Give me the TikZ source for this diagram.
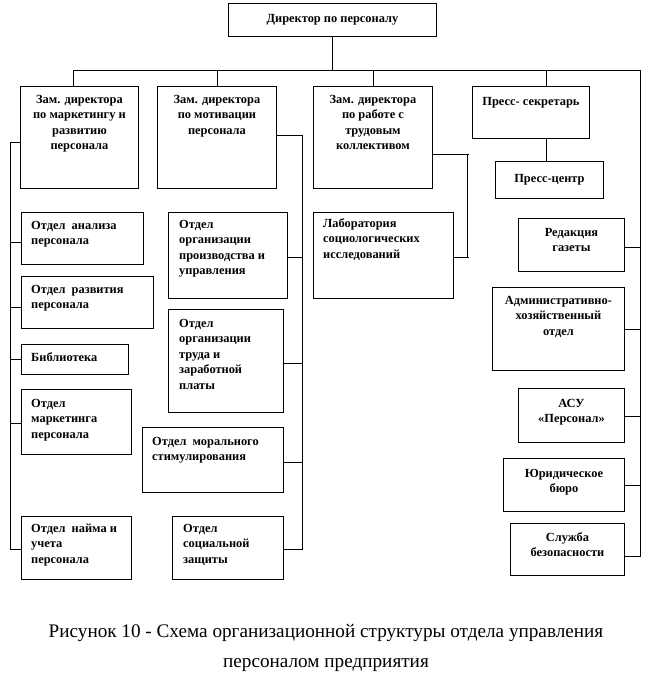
\documentclass[tikz,border=0pt]{standalone}
\usepackage{fontspec}
\setmainfont{Liberation Serif}
\tikzset{
  box/.style={draw, line width=0.9pt, inner sep=0pt, anchor=north west},
  ctext/.style={anchor=base, inner sep=0pt, font=\bfseries\fontsize{12.4}{15.5}\selectfont},
  ltext/.style={anchor=base west, inner sep=0pt, font=\bfseries\fontsize{12.4}{15.5}\selectfont},
  captext/.style={anchor=center, inner sep=0pt, font=\fontsize{19.2}{22}\selectfont},
  wire/.style={line width=0.9pt}
}
\newcommand{\cpar}[1]{\parbox[t]{180pt}{\centering #1}}
\newcommand{\lpar}[1]{\parbox[t]{200pt}{\raggedright #1}}
\begin{document}
\begin{tikzpicture}[x=1pt,y=-1pt]
\useasboundingbox[fill=white] (0,0) rectangle (654,680);
% boxes
\node[box, minimum width=208pt, minimum height=33pt] (dir) at (228,3) {};
\node[box, minimum width=118pt, minimum height=102pt] (z1) at (20,86) {};
\node[box, minimum width=119pt, minimum height=102pt] (z2) at (157,86) {};
\node[box, minimum width=119pt, minimum height=102pt] (z3) at (313,86) {};
\node[box, minimum width=117pt, minimum height=52pt] (ps) at (472,86) {};
\node[box, minimum width=108pt, minimum height=37pt] (pc) at (495,161) {};
\node[box, minimum width=106pt, minimum height=53pt] (red) at (518,218) {};
\node[box, minimum width=132pt, minimum height=83pt] (adm) at (492,287) {};
\node[box, minimum width=106pt, minimum height=54pt] (asu) at (518,388) {};
\node[box, minimum width=121pt, minimum height=53pt] (yur) at (503,458) {};
\node[box, minimum width=114pt, minimum height=52pt] (sl) at (510,523) {};
\node[box, minimum width=122pt, minimum height=52pt] (an) at (21,212) {};
\node[box, minimum width=132pt, minimum height=52pt] (ra) at (21,276) {};
\node[box, minimum width=107pt, minimum height=30pt] (bi) at (21,344) {};
\node[box, minimum width=110pt, minimum height=65pt] (ma) at (21,389) {};
\node[box, minimum width=110pt, minimum height=63pt] (na) at (21,516) {};
\node[box, minimum width=119pt, minimum height=86pt] (op) at (168,212) {};
\node[box, minimum width=115pt, minimum height=103pt] (ot) at (168,309) {};
\node[box, minimum width=141pt, minimum height=65pt] (mo) at (142,427) {};
\node[box, minimum width=111pt, minimum height=63pt] (so) at (172,516) {};
\node[box, minimum width=140pt, minimum height=86pt] (lab) at (313,212) {};
% texts
\node[ctext] (dirt) at ([yshift=-20pt]dir.north) {\cpar{Директор по персоналу}};
\node[ctext] (z1t) at ([yshift=-17pt]z1.north) {\cpar{Зам. директора\\по маркетингу и\\развитию\\персонала}};
\node[ctext] (z2t) at ([yshift=-17pt]z2.north) {\cpar{Зам. директора\\по мотивации\\персонала}};
\node[ctext] (z3t) at ([yshift=-17pt]z3.north) {\cpar{Зам. директора\\по работе с\\трудовым\\коллективом}};
\node[ctext] (pst) at ([yshift=-19pt]ps.north) {\cpar{Пресс- секретарь}};
\node[ctext] (pct) at ([yshift=-21pt]pc.north) {\cpar{Пресс-центр}};
\node[ctext] (redt) at ([yshift=-18pt]red.north) {\cpar{Редакция\\газеты}};
\node[ctext] (admt) at ([yshift=-17pt]adm.north) {\cpar{Административно-\\хозяйственный\\отдел}};
\node[ctext] (asut) at ([yshift=-19pt]asu.north) {\cpar{АСУ\\«Персонал»}};
\node[ctext] (yurt) at ([yshift=-19pt]yur.north) {\cpar{Юридическое\\бюро}};
\node[ctext] (slt) at ([yshift=-18pt]sl.north) {\cpar{Служба\\безопасности}};
\node[ltext] (ant) at ([xshift=10pt,yshift=-17pt]an.north west) {\lpar{Отдел~ анализа\\персонала}};
\node[ltext] (rat) at ([xshift=10pt,yshift=-17pt]ra.north west) {\lpar{Отдел~ развития\\персонала}};
\node[ltext] (bit) at ([xshift=10pt,yshift=-17pt]bi.north west) {\lpar{Библиотека}};
\node[ltext] (mat) at ([xshift=10pt,yshift=-18pt]ma.north west) {\lpar{Отдел\\маркетинга\\персонала}};
\node[ltext] (nat) at ([xshift=10pt,yshift=-16pt]na.north west) {\lpar{Отдел~ найма и\\учета\\персонала}};
\node[ltext] (opt) at ([xshift=11pt,yshift=-16pt]op.north west) {\lpar{Отдел\\организации\\производства и\\управления}};
\node[ltext] (ott) at ([xshift=11pt,yshift=-18pt]ot.north west) {\lpar{Отдел\\организации\\труда и\\заработной\\платы}};
\node[ltext] (mot) at ([xshift=10pt,yshift=-18pt]mo.north west) {\lpar{Отдел~ морального\\стимулирования}};
\node[ltext] (sot) at ([xshift=11pt,yshift=-16pt]so.north west) {\lpar{Отдел\\социальной\\защиты}};
\node[ltext] (labt) at ([xshift=10pt,yshift=-15pt]lab.north west) {\lpar{Лаборатория\\социологических\\исследований}};
% caption
\node[captext] (cap1) at (326,633) {Рисунок 10 - Схема организационной структуры отдела управления};
\node[captext] (cap2) at (326,665) {персоналом предприятия};
% bus coordinates
\coordinate (busL) at (73,70);
\coordinate (busR) at (640,70);
\coordinate (rEnd) at (640,556);
\coordinate (pd) at (546,70);
\coordinate (lTop) at (10,142);
\coordinate (lBot) at (10,549);
\coordinate (mTop) at (302,135);
\coordinate (mBot) at (302,549);
\coordinate (kTop) at (467,154);
\coordinate (kBot) at (467,257);
% connectors
\draw[wire] (dir.south) -- (dir.south |- busL);
\draw[wire] (busL) -- (busR) -- (rEnd) -- (sl.east |- rEnd);
\draw[wire] (busL) -- (busL |- z1.north);
\draw[wire] (z2.north |- busL) -- (z2.north);
\draw[wire] (z3.north |- busL) -- (z3.north);
\draw[wire] (pd) -- (pd |- ps.north);
\draw[wire] (ps.south -| pd) -- (pc.north -| pd);
\draw[wire] ([yshift=-2pt]red.east) -- ([yshift=-2pt]red.east -| busR);
\draw[wire] (adm.east) -- (adm.east -| busR);
\draw[wire] ([yshift=-1pt]asu.east) -- ([yshift=-1pt]asu.east -| busR);
\draw[wire] (yur.east) -- (yur.east -| busR);
% left branch
\draw[wire] (z1.west |- lTop) -- (lTop) -- (lBot) -- (na.west |- lBot);
\draw[wire] ([yshift=-4pt]an.west) -- ([yshift=-4pt]an.west -| lTop);
\draw[wire] ([yshift=-5pt]ra.west) -- ([yshift=-5pt]ra.west -| lTop);
\draw[wire] (bi.west) -- (bi.west -| lTop);
\draw[wire] ([yshift=-1.5pt]ma.west) -- ([yshift=-1.5pt]ma.west -| lTop);
% middle branch
\draw[wire] (z2.east |- mTop) -- (mTop) -- (mBot) -- (so.east |- mBot);
\draw[wire] ([yshift=-2pt]op.east) -- ([yshift=-2pt]op.east -| mTop);
\draw[wire] ([yshift=-2.5pt]ot.east) -- ([yshift=-2.5pt]ot.east -| mTop);
\draw[wire] ([yshift=-2.5pt]mo.east) -- ([yshift=-2.5pt]mo.east -| mTop);
% third branch
\draw[wire] (z3.east |- kTop) -- ([xshift=2pt]kTop);
\draw[wire] (kTop) -- (kBot);
\draw[wire] (lab.east |- kBot) -- ([xshift=2pt]kBot);
\end{tikzpicture}
\end{document}
